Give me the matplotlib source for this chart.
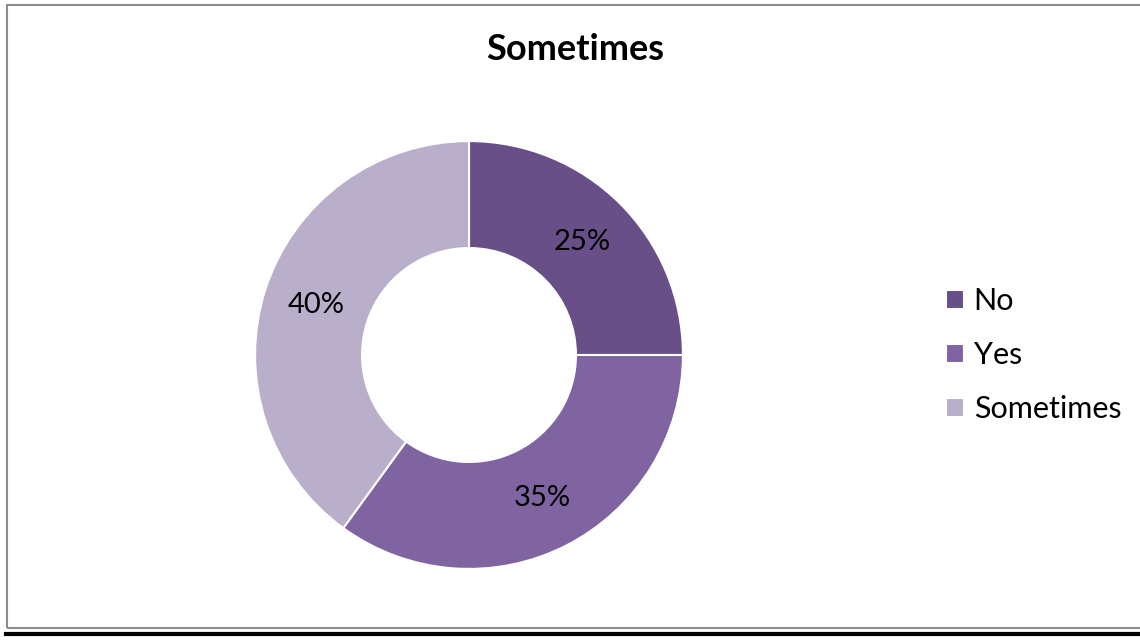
import matplotlib.pyplot as plt
from matplotlib.patches import Rectangle
from matplotlib.lines import Line2D

categories = ['No', 'Yes', 'Sometimes']
shares = [25, 35, 40]
colors = ['#684F88', '#8064A2', '#BAAFCA']
title = 'Sometimes'

plt.rcParams['font.family'] = ['Lato', 'DejaVu Sans']

W, H = 1140, 641
fig = plt.figure(figsize=(W / 100, H / 100), dpi=100)

# outer frame and bottom rule
fig.add_artist(Rectangle((6.5 / W, 1 - 628 / H), (W + 10) / W, (628 - 5) / H,
                         transform=fig.transFigure, fill=False,
                         edgecolor='#8c8c8c', linewidth=1.5))
fig.add_artist(Line2D([6 / W, 1], [1 - 633.5 / H] * 2, transform=fig.transFigure,
                      color='black', linewidth=3))

cx, cy, r = 469, 355, 215
ax = fig.add_axes([(cx - r) / W, 1 - (cy + r) / H, 2 * r / W, 2 * r / H])
wedges, texts, autotexts = ax.pie(
    shares, colors=colors, startangle=90, counterclock=False,
    autopct='%d%%', pctdistance=0.75,
    wedgeprops=dict(width=0.5, edgecolor='white', linewidth=1.5),
    textprops=dict(fontsize=21, color='black'))
ax.set_xlim(-1.005, 1.005)
ax.set_ylim(-1.005, 1.005)
ax.set_aspect('equal')

fig.text(575 / W, 1 - 50 / H, title, ha='center', va='center',
         fontsize=26, fontweight='bold')

fig.legend(wedges, categories, loc='center left',
           bbox_to_anchor=(940 / W, 1 - 355 / H), frameon=False,
           fontsize=22, handlelength=0.6, handleheight=0.6,
           handletextpad=0.3, labelspacing=0.85, borderpad=0.2,
           borderaxespad=0)

fig.savefig('out.png', dpi=100)
plt.close(fig)
